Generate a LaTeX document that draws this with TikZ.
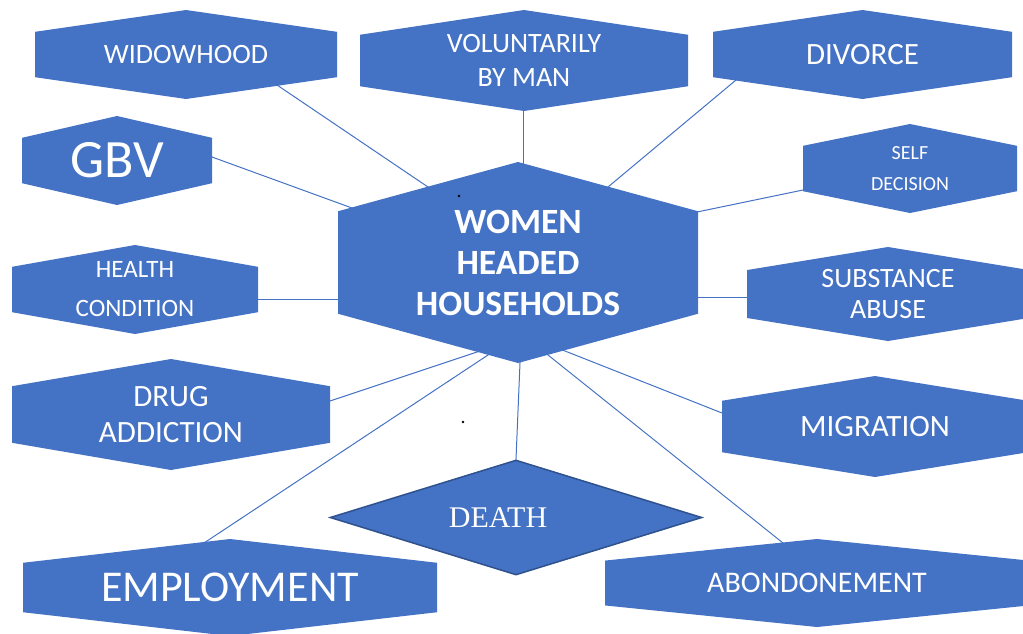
\documentclass[tikz,border=0pt]{standalone}
\usepackage{fontspec}
\setmainfont{Carlito}
\newfontfamily\deathfont{Liberation Serif}
\usetikzlibrary{calc,backgrounds,shapes.geometric}
\definecolor{officeblue}{HTML}{4472C4}
\definecolor{darkblue}{HTML}{2F528F}
\tikzset{
  hexbox/.style args={#1 by #2}{
    minimum width=#1,minimum height=#2,inner sep=0pt,
    text=white,align=center,
    path picture={
      \path (path picture bounding box.south west) coordinate (hsw)
            (path picture bounding box.north east) coordinate (hne);
      \fill[officeblue] ($(hsw|-hne)!.245!(hsw)$) -- ($(hsw|-hne)!.5!(hne)$)
        -- ($(hne)!.245!(hne|-hsw)$) -- ($(hne|-hsw)!.245!(hne)$)
        -- ($(hsw)!.5!(hne|-hsw)$) -- ($(hsw)!.245!(hsw|-hne)$) -- cycle;
    }, % flat sides, pointed top and bottom
  },
  link/.style={officeblue,line width=1pt,shorten <=-4pt,shorten >=-4pt},
}

\begin{document}
\begin{tikzpicture}[x=1pt,y=-1pt]
  \useasboundingbox (0,0) rectangle (1023,633);

  % centre
  \node[hexbox=360pt by 201pt,font=\bfseries\fontsize{35.5}{41}\selectfont] (women) at (518,262.5) {WOMEN\\HEADED\\HOUSEHOLDS};

  % causes, top row
  \node[hexbox=302pt by 89pt,font=\fontsize{28}{34}\selectfont] (wid) at (186,54.5) {WIDOWHOOD};
  \node[hexbox=328pt by 101pt,font=\fontsize{28}{34}\selectfont] (vol) at (524,60.5) {VOLUNTARILY\\BY MAN};
  \node[hexbox=299pt by 89pt,font=\fontsize{31}{36}\selectfont] (div) at (862.5,54.5) {DIVORCE};

  % left side
  \node[hexbox=190pt by 89pt,font=\fontsize{54}{60}\selectfont] (gbv) at (117,160.5) {GBV};
  \node[hexbox=246pt by 89pt,font=\fontsize{25}{39}\selectfont] (health) at (135,289.5) {HEALTH\\CONDITION};
  \node[hexbox=318pt by 111pt,font=\fontsize{31}{36}\selectfont] (drug) at (171,414.5) {DRUG\\ADDICTION};
  \node[hexbox=414pt by 97pt,font=\fontsize{44}{50}\selectfont] (employ) at (230,587.5) {EMPLOYMENT};

  % right side
  \node[hexbox=214pt by 89pt,font=\fontsize{20}{31}\selectfont] (self) at (910,168.5) {SELF\\DECISION};
  \node[hexbox=282pt by 94pt,font=\fontsize{28}{31}\selectfont] (subst) at (888,294) {SUBSTANCE\\ABUSE};
  \node[hexbox=306pt by 101pt,font=\fontsize{31}{36}\selectfont] (migr) at (875,426.5) {MIGRATION};
  \node[hexbox=424pt by 88pt,font=\fontsize{30}{36}\selectfont] (abon) at (817,583) {ABONDONEMENT};

  % bottom
  \node[diamond,aspect=3.23,minimum width=372pt,minimum height=115pt,inner sep=0pt,
        fill=officeblue,draw=darkblue,line width=1.5pt,text=white,
        font=\deathfont\fontsize{30}{36}\selectfont] (death) at (516,517.5) {\raisebox{-2pt}{DEATH}\hspace*{36pt}};

  % connectors under the shapes
  \begin{scope}[on background layer]
    \draw[link] ($(wid)+(91,30.5)$) -- ($(women)+(-90,-75.5)$);
    \draw[link] ($(vol)+(-1,50.5)$) -- ($(women)+(5,-100.5)$);
    \draw[link] ($(div)+(-126.5,25.5)$) -- ($(women)+(90,-75.5)$);
    \draw[link] ($(gbv)+(95,-3.5)$) -- ($(women)+(-166,-54.5)$);
    \draw[link] ($(self)+(-107,21.5)$) -- ($(women)+(179,-50.5)$);
    \draw[link] ($(health)+(123,9.5)$) -- ($(women)+(-180,36.5)$);
    \draw[link] ($(subst)+(-141,3)$) -- ($(women)+(180,34.5)$);
    \draw[link] ($(drug)+(159,-13.5)$) -- ($(women)+(-41,89.5)$);
    \draw[link] ($(migr)+(-153,-13.5)$) -- ($(women)+(47,88.5)$);
    \draw[link] ($(employ)+(-23,-46.5)$) -- ($(women)+(-30,92.5)$);
    \draw[link] ($(abon)+(-34,-40)$) -- ($(women)+(30,92.5)$);
    \draw[link] (death.north) -- ($(women)+(2,100.5)$);
  \end{scope}

  % stray dots
  \fill (459,196) circle (1.4);
  \fill (463,422) circle (1.4);
\end{tikzpicture}
\end{document}
